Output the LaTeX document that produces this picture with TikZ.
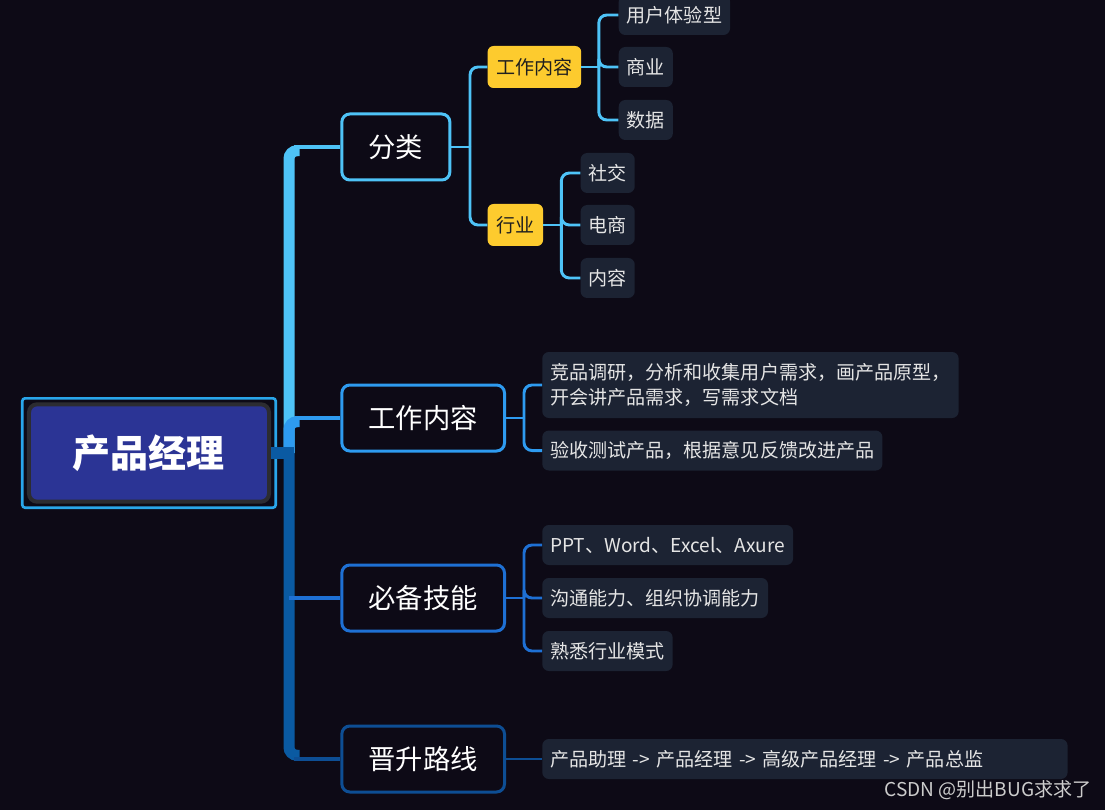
\documentclass[tikz,border=0pt]{standalone}
\usepackage{fontspec}
\setmainfont{Noto Sans CJK SC}
\usepackage{xcolor}
\usepackage{tikz}
\usetikzlibrary{positioning,calc}

\definecolor{bgdark}{HTML}{0D0A16}
\definecolor{skyblue}{HTML}{4EC3F7}
\definecolor{midblue}{HTML}{2E9BF0}
\definecolor{deepblue}{HTML}{1E70D4}
\definecolor{navyblue}{HTML}{0D4E94}
\definecolor{trunkblue}{HTML}{0A5AA2}
\definecolor{framblue}{HTML}{29A6EA}
\definecolor{rootfill}{HTML}{2B3495}
\definecolor{rootring}{HTML}{2C2C31}
\definecolor{tagyellow}{HTML}{FDCB2E}
\definecolor{leaffill}{HTML}{1C2333}

\begin{document}
\begin{tikzpicture}[
  every node/.style={font=\fontsize{14.3}{18.5}\selectfont, text=white!90!black},
  root/.style={rectangle, rounded corners=6pt, draw=rootring, line width=3pt, fill=rootfill, minimum width=180pt, minimum height=73pt, font=\fontsize{28.5}{30}\selectfont\bfseries, text=white},
  branch/.style={rectangle, rounded corners=6pt, draw, line width=2.25pt, fill=bgdark, minimum height=49.5pt, inner xsep=20pt, font=\fontsize{20.5}{24}\selectfont, text=white},
  tag/.style={rectangle, rounded corners=4.5pt, fill=tagyellow, minimum height=31.5pt, inner xsep=6.5pt, text=black!88},
  leaf/.style={rectangle, rounded corners=5pt, fill=leaffill, minimum height=30pt, inner xsep=6pt, align=left},
  trunk/.style={line width=8.25pt, rounded corners=6pt},
  twig/.style={line width=2.6pt},
  link/.style={line width=2.2pt, rounded corners=6pt}
]
  \useasboundingbox (-111.75pt,339.75pt) rectangle (717pt,-267.75pt);
  \fill[bgdark] (-111.75pt,339.75pt) rectangle (717pt,-267.75pt);

  % centre and its four branches
  \node[root] (root) at (0,0) {产品经理};
  \draw[framblue, line width=2pt, rounded corners=2pt] ([shift={(-3.5pt,-3pt)}]root.south west) rectangle ([shift={(3.5pt,3pt)}]root.north east);
  \coordinate[right=13.5pt of root] (hub);

  \node[branch, draw=skyblue, right=52pt of root, yshift=229.5pt] (fenlei) {分类};
  \node[branch, draw=midblue, right=52pt of root, yshift=26.25pt] (gongzuo) {工作内容};
  \node[branch, draw=deepblue, right=52pt of root, yshift=-108.75pt] (jineng) {必备技能};
  \node[branch, draw=navyblue, right=52pt of root, yshift=-229.5pt] (jinsheng) {晋升路线};

  % 分类
  \node[tag, right=27pt of fenlei, yshift=60pt] (gzsub) {工作内容};
  \node[tag, right=27pt of fenlei, yshift=-58.5pt] (hangye) {行业};

  \node[leaf, right=27.75pt of gzsub, yshift=39pt] (tiyan) {用户体验型};
  \node[leaf, right=27.75pt of gzsub] (shangye) {商业};
  \node[leaf, right=27.75pt of gzsub, yshift=-39.75pt] (shuju) {数据};

  \node[leaf, right=27.75pt of hangye, yshift=39pt] (shejiao) {社交};
  \node[leaf, right=27.75pt of hangye] (dianshang) {电商};
  \node[leaf, right=27.75pt of hangye, yshift=-39.75pt] (neirong) {内容};

  % 工作内容
  \node[leaf, minimum height=49.5pt, right=27pt of gongzuo, yshift=24.75pt] (jingpin) {竞品调研，分析和收集用户需求，画产品原型，\\开会讲产品需求，写需求文档};
  \node[leaf, right=27pt of gongzuo, yshift=-24.4pt] (yanshou) {验收测试产品，根据意见反馈改进产品};

  % 必备技能
  \node[leaf, right=27pt of jineng, yshift=39.75pt] (ruanjian) {PPT、Word、Excel、Axure};
  \node[leaf, right=27pt of jineng] (goutong) {沟通能力、组织协调能力};
  \node[leaf, right=27pt of jineng, yshift=-39.75pt] (moshi) {熟悉行业模式};

  % 晋升路线
  \node[leaf, text width=382pt, right=27pt of jinsheng] (lujing) {产品助理 -> 产品经理 -> 高级产品经理 -> 产品总监};

  \node[anchor=east, inner sep=0pt, text=white!80!black, font=\fontsize{14.3}{16}\selectfont] (mark) at (707pt,-252.75pt) {CSDN @别出BUG求求了};

  % trunk
  \draw[trunk, skyblue] (hub) |- ([shift={(8pt,-2.8pt)}]hub |- fenlei.west);
  \draw[twig, skyblue] ([xshift=4pt]hub |- fenlei.west) -- (fenlei.west);
  \draw[trunk, midblue] (hub) |- ([shift={(8pt,-2.8pt)}]hub |- gongzuo.west);
  \draw[twig, midblue] ([xshift=4pt]hub |- gongzuo.west) -- (gongzuo.west);
  \draw[trunk, trunkblue] (hub) |- ([shift={(8pt,2.8pt)}]hub |- jinsheng.west);
  \draw[twig, navyblue] ([xshift=4pt]hub |- jinsheng.west) -- (jinsheng.west);
  \draw[twig, deepblue] (hub |- jineng.west) -- (jineng.west);
  \draw[line width=9pt, trunkblue] (root.east) -- ([xshift=4pt]hub);

  % brackets
  \coordinate[right=14pt of fenlei] (fenmid);
  \coordinate[right=13pt of gzsub] (gzmid);
  \coordinate[right=13.5pt of hangye] (hymid);
  \coordinate[right=13.5pt of gongzuo] (gzmainmid);
  \coordinate[right=13.5pt of jineng] (jnmid);
  \draw[link, skyblue] (fenlei.east) -- (fenmid);
  \draw[link, skyblue] (gzsub.east) -- (gzmid);
  \draw[link, skyblue] (hangye.east) -- (hymid);
  \draw[link, midblue] (gongzuo.east) -- (gzmainmid);
  \draw[link, deepblue] (jineng.east) -- (jnmid);
  \foreach \n in {gzsub, hangye}
    \draw[link, skyblue] (fenmid) |- (\n.west);
  \foreach \n in {tiyan, shangye, shuju}
    \draw[link, skyblue] (gzmid) |- (\n.west);
  \foreach \n in {shejiao, dianshang, neirong}
    \draw[link, skyblue] (hymid) |- (\n.west);
  \foreach \n in {jingpin, yanshou}
    \draw[link, midblue] (gzmainmid) |- (\n.west);
  \foreach \n in {ruanjian, goutong, moshi}
    \draw[link, deepblue] (jnmid) |- (\n.west);
  \draw[link, navyblue] (jinsheng.east) -- (lujing.west);
\end{tikzpicture}
\end{document}
